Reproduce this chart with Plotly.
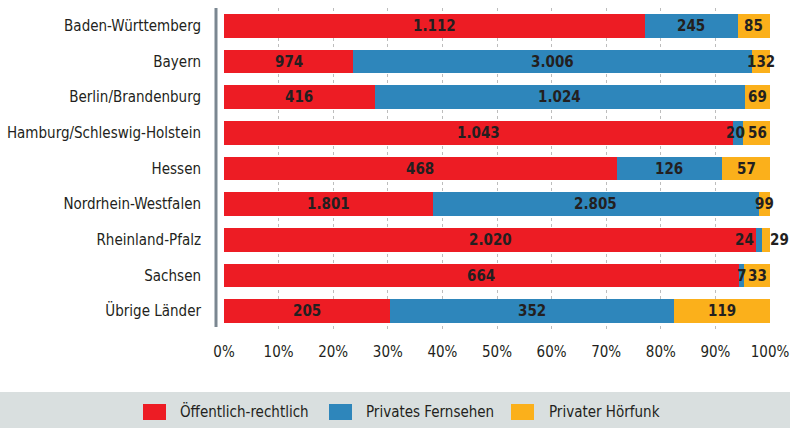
import plotly.graph_objects as go

# Regions (top to bottom) and values per broadcaster type
regions = [
    "Baden-Württemberg", "Bayern", "Berlin/Brandenburg",
    "Hamburg/Schleswig-Holstein", "Hessen", "Nordrhein-Westfalen",
    "Rheinland-Pfalz", "Sachsen", "Übrige Länder",
]
oeffentlich = [1112, 974, 416, 1043, 468, 1801, 2020, 664, 205]
privat_tv = [245, 3006, 1024, 20, 126, 2805, 24, 7, 352]
privat_radio = [85, 132, 69, 56, 57, 99, 29, 33, 119]

series_names = ["Öffentlich-rechtlich", "Privates Fernsehen", "Privater Hörfunk"]
tick_vals = [0, 10, 20, 30, 40, 50, 60, 70, 80, 90, 100]
tick_text = ["0%", "10%", "20%", "30%", "40%", "50%", "60%", "70%", "80%", "90%", "100%"]

colors = ["#ed1c24", "#2e86bb", "#fbb01b"]
FONT = "DejaVu Sans Condensed"
TEXT = "#231f20"

W, H = 790, 428
ML, MR, MT, MB = 224, 20, 8, 99
PW, PH = W - ML - MR, H - MT - MB


def px(x):
    return (x - ML) / PW


def py(y):
    return (H - MB - y) / PH


def de_num(v):
    return f"{v:,}".replace(",", ".")


series = [oeffentlich, privat_tv, privat_radio]
totals = [sum(s[i] for s in series) for i in range(len(regions))]

fig = go.Figure()
for name, vals, col in zip(series_names, series, colors):
    pct = [v / t * 100 for v, t in zip(vals, totals)]
    fig.add_trace(go.Bar(
        y=regions, x=pct, name=name, orientation="h",
        marker=dict(color=col, line=dict(width=0)),
        showlegend=False, hoverinfo="skip",
    ))

# value labels centred on each segment; a few nudged to avoid overlapping
nudge = {(3, 1): -2, (3, 2): 1, (6, 1): -15, (6, 2): 13}
annotations = []
for i, reg in enumerate(regions):
    start = 0.0
    for k, vals in enumerate(series):
        p = vals[i] / totals[i] * 100
        annotations.append(dict(
            x=start + p / 2, y=reg, xref="x", yref="y",
            text=de_num(vals[i]), showarrow=False,
            xshift=nudge.get((i, k), 0),
            font=dict(family=FONT, size=15, color=TEXT, weight="bold"),
        ))
        start += p

shapes = [
    # legend band
    dict(type="rect", xref="paper", yref="paper", layer="below",
         x0=px(0), x1=px(W), y0=py(392), y1=py(H + 2),
         fillcolor="#d9dfdf", line=dict(width=0)),
    # vertical category axis line
    dict(type="line", xref="paper", yref="paper",
         x0=px(216), x1=px(216), y0=py(8), y1=py(327),
         line=dict(color="#7b8791", width=3)),
]

# legend entries
leg_sq = [143, 329, 511]
leg_tx = [178, 364, 547]
for name, col, sx, tx in zip(series_names, colors, leg_sq, leg_tx):
    shapes.append(dict(type="rect", xref="paper", yref="paper",
                       x0=px(sx), x1=px(sx + 23), y0=py(404), y1=py(420),
                       fillcolor=col, line=dict(width=0)))
    annotations.append(dict(x=px(tx), y=py(411.5), xref="paper", yref="paper",
                            xanchor="left", yanchor="middle", showarrow=False,
                            text=name, font=dict(family=FONT, size=15, color=TEXT)))

fig.update_layout(
    width=W, height=H,
    margin=dict(l=ML, r=MR, t=MT, b=MB),
    barmode="stack", bargap=0.33,
    plot_bgcolor="white", paper_bgcolor="white",
    font=dict(family=FONT, color=TEXT, size=15),
    xaxis=dict(
        range=[0, 100], tickvals=tick_vals, ticktext=tick_text,
        showgrid=True, gridcolor="#bdbdbd", griddash="dot", gridwidth=1,
        zeroline=False, showline=False, ticks="", automargin=False,
        tickfont=dict(family=FONT, size=15, color=TEXT),
        ticklabelstandoff=12,
    ),
    yaxis=dict(
        categoryorder="array", categoryarray=regions, autorange="reversed",
        showgrid=False, zeroline=False, showline=False, ticks="", automargin=False,
        tickfont=dict(family=FONT, size=15, color=TEXT),
        ticklabelstandoff=22,
    ),
    annotations=annotations,
    shapes=shapes,
)

fig.write_html("out.html")
